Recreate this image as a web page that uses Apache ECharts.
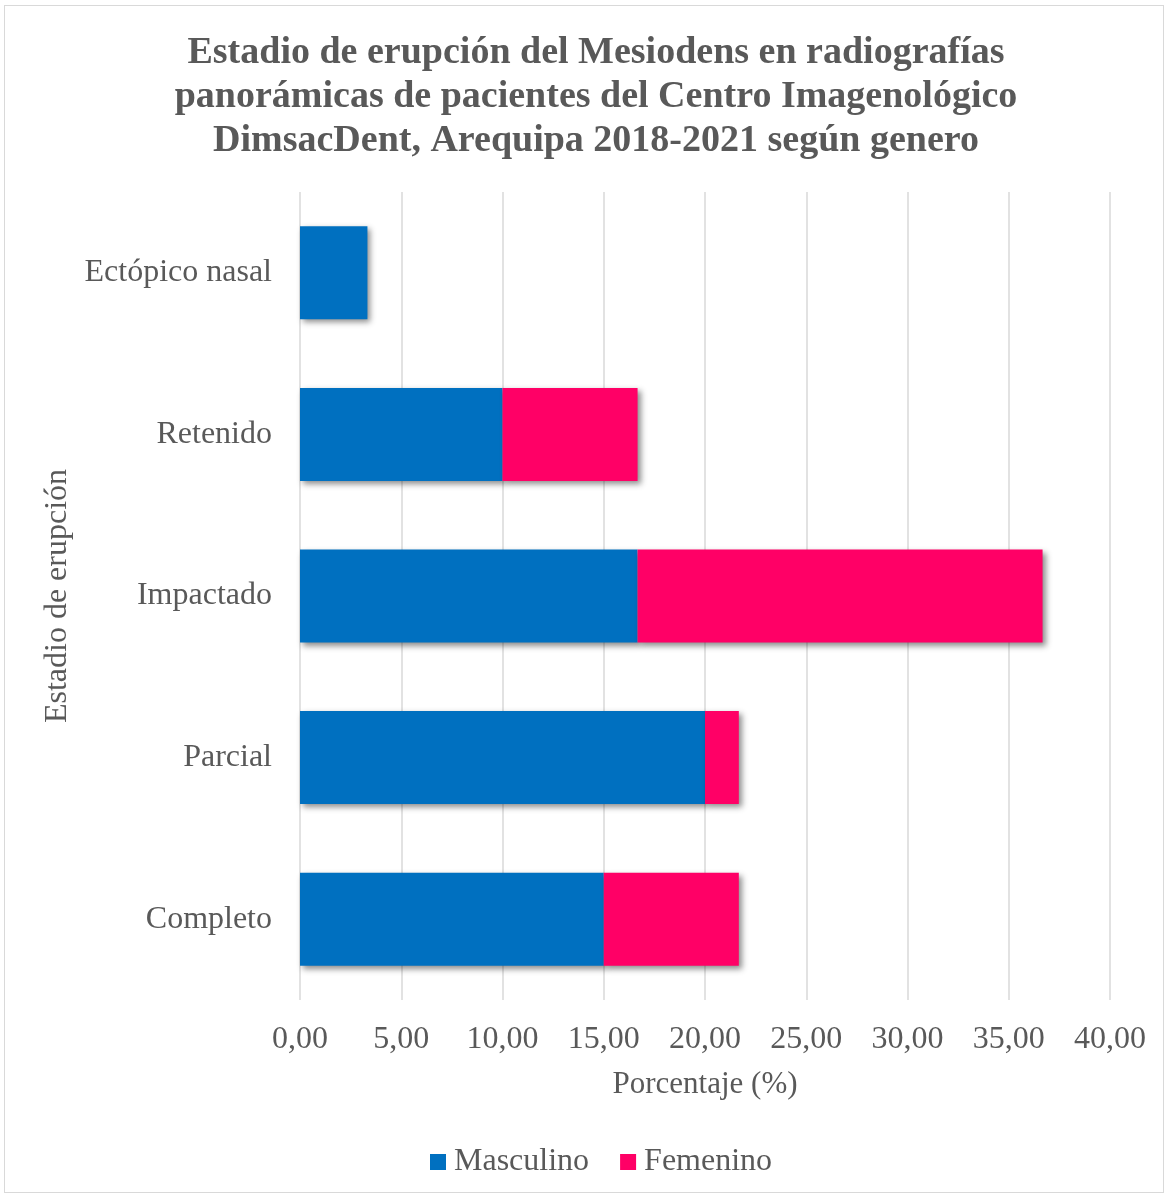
<!DOCTYPE html>
<html><head><meta charset="utf-8">
<script src="https://cdn.jsdelivr.net/npm/echarts@6/dist/echarts.min.js"></script>
<style>html,body{margin:0;padding:0;background:#fff}#c{width:1167px;height:1197px}
#frame{position:absolute;left:4px;top:5px;width:1158px;height:1186px;border:1px solid #d9d9d9;pointer-events:none}</style>
</head><body><div id="c"></div><div id="frame"></div>
<script>
const categories = ['Completo', 'Parcial', 'Impactado', 'Retenido', 'Ectópico nasal'];
const masculino = [15.00, 20.00, 16.67, 10.00, 3.33];
const femenino = [6.67, 1.67, 20.00, 6.67, 0];
const xTicks = [0, 5, 10, 15, 20, 25, 30, 35, 40];

const font = "'Liberation Serif', 'Times New Roman', serif";
const grey = '#595959';
const shadow = {shadowBlur: 6, shadowOffsetX: 3, shadowOffsetY: 3, shadowColor: 'rgba(0,0,0,0.45)'};
const chart = echarts.init(document.getElementById('c'));
chart.setOption({
  backgroundColor: '#fff',
  animation: false,
  title: {
    text: 'Estadio de erupción del Mesiodens en radiografías\npanorámicas de pacientes del Centro Imagenológico\nDimsacDent, Arequipa 2018-2021 según genero',
    left: 591, textAlign: 'center', top: 26,
    textStyle: {fontFamily: font, fontWeight: 'bold', fontSize: 38, color: grey, lineHeight: 44}
  },
  legend: {
    bottom: 14, left: 425, itemWidth: 16, itemHeight: 16, itemGap: 31,
    icon: 'rect',
    textStyle: {fontFamily: font, fontSize: 32, color: grey, padding: [0, 0, 0, 3]},
    data: ['Masculino', 'Femenino']
  },
  grid: {left: 300, right: 57, top: 192, bottom: 197, containLabel: false},
  xAxis: {
    type: 'value', min: 0, max: 40, interval: 5,
    name: 'Porcentaje (%)', nameLocation: 'middle', nameGap: 69,
    nameTextStyle: {fontFamily: font, fontSize: 31, color: grey},
    axisLine: {show: false}, axisTick: {show: false},
    axisLabel: {fontFamily: font, fontSize: 32, color: grey, margin: 24,
      formatter: v => xTicks.includes(v) ? v.toFixed(2).replace('.', ',') : ''},
    splitLine: {show: true, lineStyle: {color: '#d9d9d9', width: 1.5}}
  },
  yAxis: {
    type: 'category', data: categories,
    name: 'Estadio de erupción', nameLocation: 'middle', nameGap: 222, nameRotate: 90,
    nameTextStyle: {fontFamily: font, fontSize: 32, color: grey},
    axisLine: {show: false}, axisTick: {show: false},
    axisLabel: {fontFamily: font, fontSize: 32, color: grey, margin: 28, padding: [6, 0, 0, 0]}
  },
  series: [
    {name: 'Masculino', type: 'bar', stack: 't', data: masculino, barWidth: 93,
      itemStyle: Object.assign({color: '#0070c0'}, shadow)},
    {name: 'Femenino', type: 'bar', stack: 't', data: femenino, barWidth: 93,
      itemStyle: Object.assign({color: '#ff0066'}, shadow)}
  ]
});
</script></body></html>
